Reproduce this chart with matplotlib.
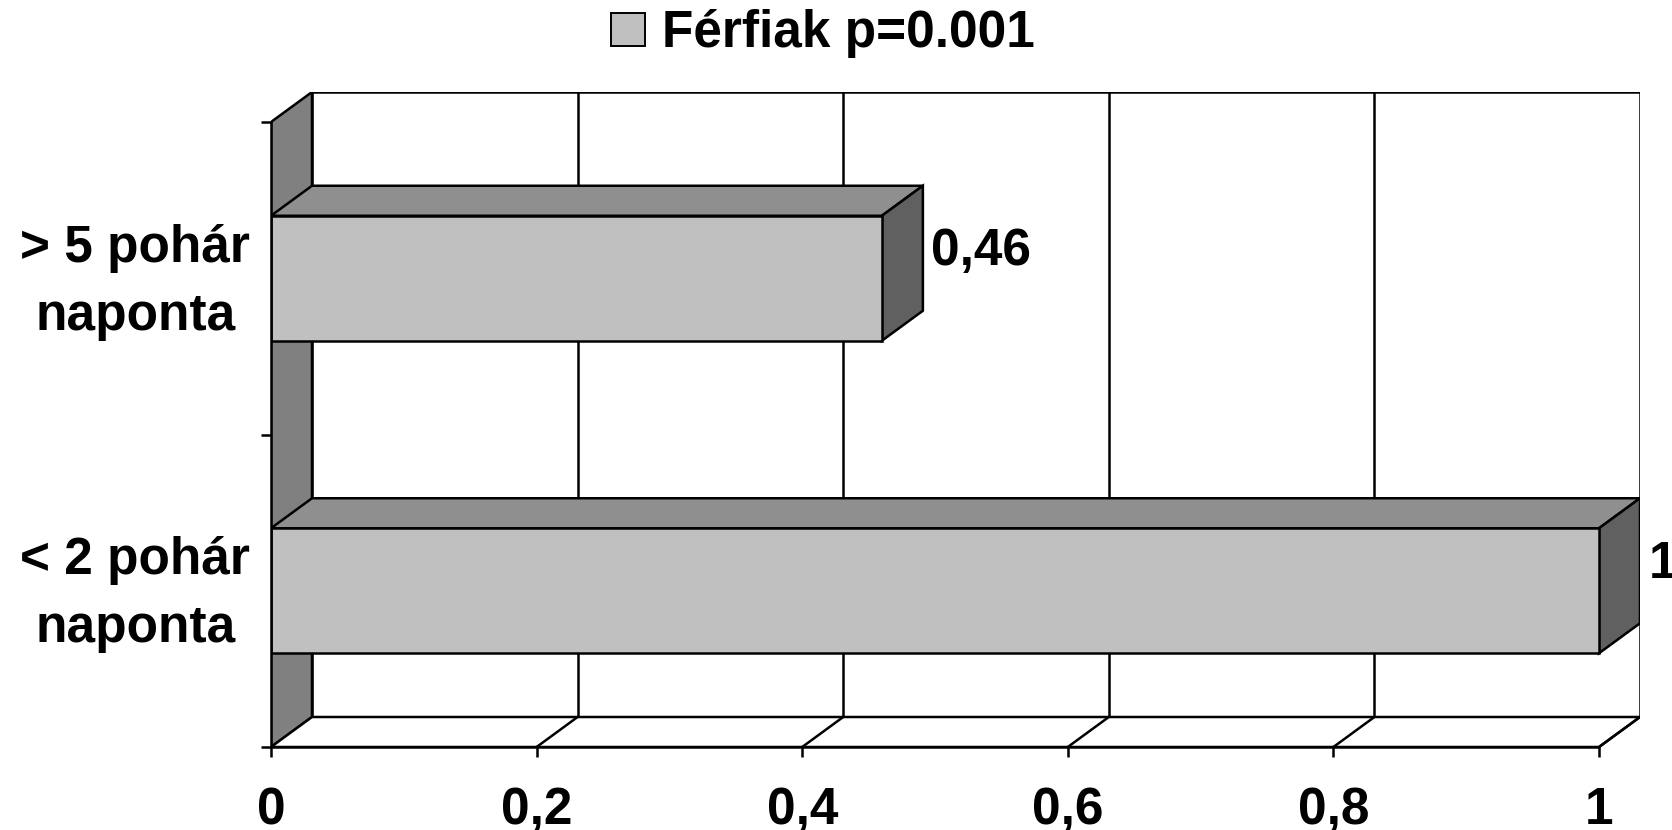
import matplotlib
matplotlib.use("Agg")
import matplotlib.pyplot as plt
from matplotlib.patches import Polygon, Rectangle, Patch
from matplotlib.ticker import FuncFormatter, FixedLocator
from matplotlib.transforms import ScaledTranslation

plt.rcParams['font.family'] = ['Liberation Sans', 'DejaVu Sans']
plt.rcParams['font.weight'] = 'bold'

# data
categories = ["< 2 pohár\nnaponta", "> 5 pohár\nnaponta"]
values = [1.0, 0.46]
value_labels = ["1", "0,46"]
series_name = "Férfiak p=0.001"
x_ticks = [0, 0.2, 0.4, 0.6, 0.8, 1.0]

FRONT = "#C0C0C0"
TOP = "#8F8F8F"
SIDE = "#606060"
WALL = "#808080"
LW = 1.8
FS = 37

fig = plt.figure(figsize=(16.72, 8.30), dpi=100)
ax = fig.add_axes([271 / 1672, 1 - 747 / 830, 1369 / 1672, 655 / 830])

# depth offsets of the pseudo-3D box (data units)
dx = 41 / 1328
dy = 30 / 312.5
h = 0.4
y_lo, y_hi = -0.5, len(categories) - 0.5

ax.set_xlim(0, 1 + dx)
ax.set_ylim(y_lo, y_hi + dy)

# back wall with vertical gridlines
ax.add_patch(Rectangle((dx, y_lo + dy), 1, y_hi - y_lo, fc="white", ec="black",
                       lw=LW, zorder=1))
for t in x_ticks[1:-1]:
    ax.plot([t + dx, t + dx], [y_lo + dy, y_hi + dy], color="black", lw=LW, zorder=1.5)

# left side wall
ax.add_patch(Polygon([(0, y_lo), (dx, y_lo + dy), (dx, y_hi + dy), (0, y_hi)],
                     closed=True, fc=WALL, ec="black", lw=LW, zorder=2))
# floor with diagonal gridlines
ax.add_patch(Polygon([(0, y_lo), (1, y_lo), (1 + dx, y_lo + dy), (dx, y_lo + dy)],
                     closed=True, fc="white", ec="black", lw=LW, zorder=2))
for t in x_ticks[1:]:
    ax.plot([t, t + dx], [y_lo, y_lo + dy], color="black", lw=LW, zorder=2.5)

# bars: front faces, then top and right faces
ypos = list(range(len(categories)))
ax.barh(ypos, values, height=h, color=FRONT, edgecolor="black", lw=LW, zorder=4)
for y, v, lab in zip(ypos, values, value_labels):
    top = [(0, y + h / 2), (v, y + h / 2), (v + dx, y + h / 2 + dy), (dx, y + h / 2 + dy)]
    side = [(v, y - h / 2), (v, y + h / 2), (v + dx, y + h / 2 + dy), (v + dx, y - h / 2 + dy)]
    ax.add_patch(Polygon(top, closed=True, fc=TOP, ec="black", lw=LW, zorder=3.5))
    ax.add_patch(Polygon(side, closed=True, fc=SIDE, ec="black", lw=LW, zorder=3.5))
    ax.annotate(lab, xy=(v + dx, y + 0.085), xytext=(6, 0), textcoords="offset points",
                va="center", ha="left", fontsize=FS, fontweight="bold",
                annotation_clip=False)

# spines and ticks
for s in ["top", "right"]:
    ax.spines[s].set_visible(False)
ax.spines["left"].set_bounds(y_lo, y_hi)
ax.spines["bottom"].set_bounds(0, 1)
for s in ["left", "bottom"]:
    ax.spines[s].set_linewidth(LW)
    ax.spines[s].set_zorder(5)

ax.set_xticks(x_ticks)
ax.xaxis.set_major_formatter(FuncFormatter(lambda v, p: f"{v:g}".replace(".", ",")))
ax.tick_params(axis="x", direction="out", length=7.2, width=LW, pad=21, labelsize=FS)

ax.yaxis.set_major_locator(FixedLocator([y_lo + i for i in range(len(categories) + 1)]))
ax.yaxis.set_major_formatter(FuncFormatter(lambda v, p: ""))
ax.set_yticks(ypos, minor=True)
ax.set_yticklabels(categories, minor=True, fontsize=FS, fontweight="bold",
                   multialignment="center", linespacing=1.5)
ax.tick_params(axis="y", which="major", direction="out", length=7.2, width=LW)
ax.tick_params(axis="y", which="minor", length=0, pad=15)
# lift the two-line category labels so the block sits centred on its band
lift = ScaledTranslation(0, 0.11, fig.dpi_scale_trans)
for lbl in ax.get_yticklabels(minor=True):
    lbl.set_transform(lbl.get_transform() + lift)
ax.set_facecolor("none")

fig.legend(handles=[Patch(fc=FRONT, ec="black", lw=1.4, label=series_name)],
           loc="center", bbox_to_anchor=(823 / 1672, 1 - 34 / 830), frameon=False,
           prop={"size": FS, "weight": "bold"}, handlelength=0.66, handleheight=0.62,
           handletextpad=0.33, borderpad=0.1)

fig.savefig("out.png", dpi=100)
